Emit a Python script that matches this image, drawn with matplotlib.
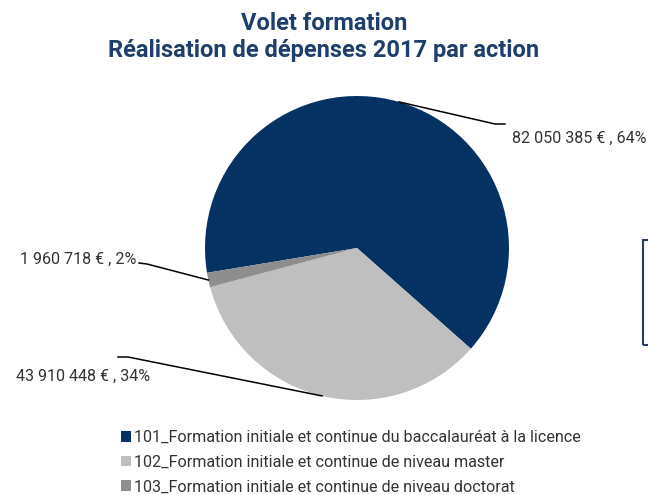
import matplotlib
matplotlib.use("Agg")
import matplotlib.pyplot as plt
from matplotlib.patches import Patch, Rectangle
import numpy as np

categories = ["101_Formation initiale et continue du baccalauréat à la licence",
              "102_Formation initiale et continue de niveau master",
              "103_Formation initiale et continue de niveau doctorat"]
values = [82050385, 43910448, 1960718]
value_labels = ["82 050 385 €", "43 910 448 €", "1 960 718 €"]
colors = ["#053263", "#BFBFBF", "#8E8E8E"]

plt.rcParams['font.family'] = ['Roboto', 'DejaVu Sans']

W, H = 648, 495
fig = plt.figure(figsize=(W/100, H/100), dpi=100)
cx, cy, R = 357, 248, 152
ax = fig.add_axes([(cx-R)/W, (H-cy-R)/H, 2*R/W, 2*R/H])

start = 189.4
wedges, _ = ax.pie(values, colors=colors, startangle=start, counterclock=False,
                   radius=1, wedgeprops=dict(linewidth=0))
ax.set_xlim(-1, 1); ax.set_ylim(-1, 1); ax.set_aspect('equal'); ax.axis('off')

total = sum(values)
pcts = [round(v/total*100) for v in values]

def p2d(px, py):
    return ((px-cx)/R, (cy-py)/R)

# leader geometry (layout): elbow, end, text pos, ha
layout = [
    ((495, 124), (505, 124), (512, 138), 'left'),
    ((128, 357), (118, 357), (16, 376), 'left'),
    ((147, 264), (139, 263), (136, 259), 'right'),
]
for w, lab, p, (elb, end, tp, ha) in zip(wedges, value_labels, pcts, layout):
    mid = np.deg2rad((w.theta1 + w.theta2)/2)
    x0, y0 = np.cos(mid), np.sin(mid)
    ex, ey = p2d(*elb); nx, ny = p2d(*end)
    ax.plot([x0, ex, nx], [y0, ey, ny], color='black', lw=1.1, clip_on=False)
    tx, ty = p2d(*tp)
    ax.text(tx, ty, f"{lab} , {p}%", ha=ha, va='center', fontsize=11.6,
            color='#333333', clip_on=False)

fig.text(0.5, 1-23/H, "Volet formation", ha='center', va='center',
         fontsize=17, fontweight='bold', color='#1E3F6B')
fig.text(0.5, 1-50/H, "Réalisation de dépenses 2017 par action", ha='center', va='center',
         fontsize=17, fontweight='bold', color='#1E3F6B')

handles = [Patch(facecolor=c, edgecolor='none') for c in colors]
leg = fig.legend(handles, categories, loc='upper left',
                 bbox_to_anchor=(121/W, 1-430/H), frameon=False, fontsize=11.6,
                 handlelength=0.65, handleheight=0.65, handletextpad=0.15,
                 labelspacing=0.6, borderaxespad=0, borderpad=0, labelcolor='#333333')

fig.patches.append(Rectangle((643/W, 1-345/H), 20/W, 105/H, transform=fig.transFigure,
                             fill=False, edgecolor='#1E3F6B', lw=1.5))

fig.savefig("out.png", dpi=100)
